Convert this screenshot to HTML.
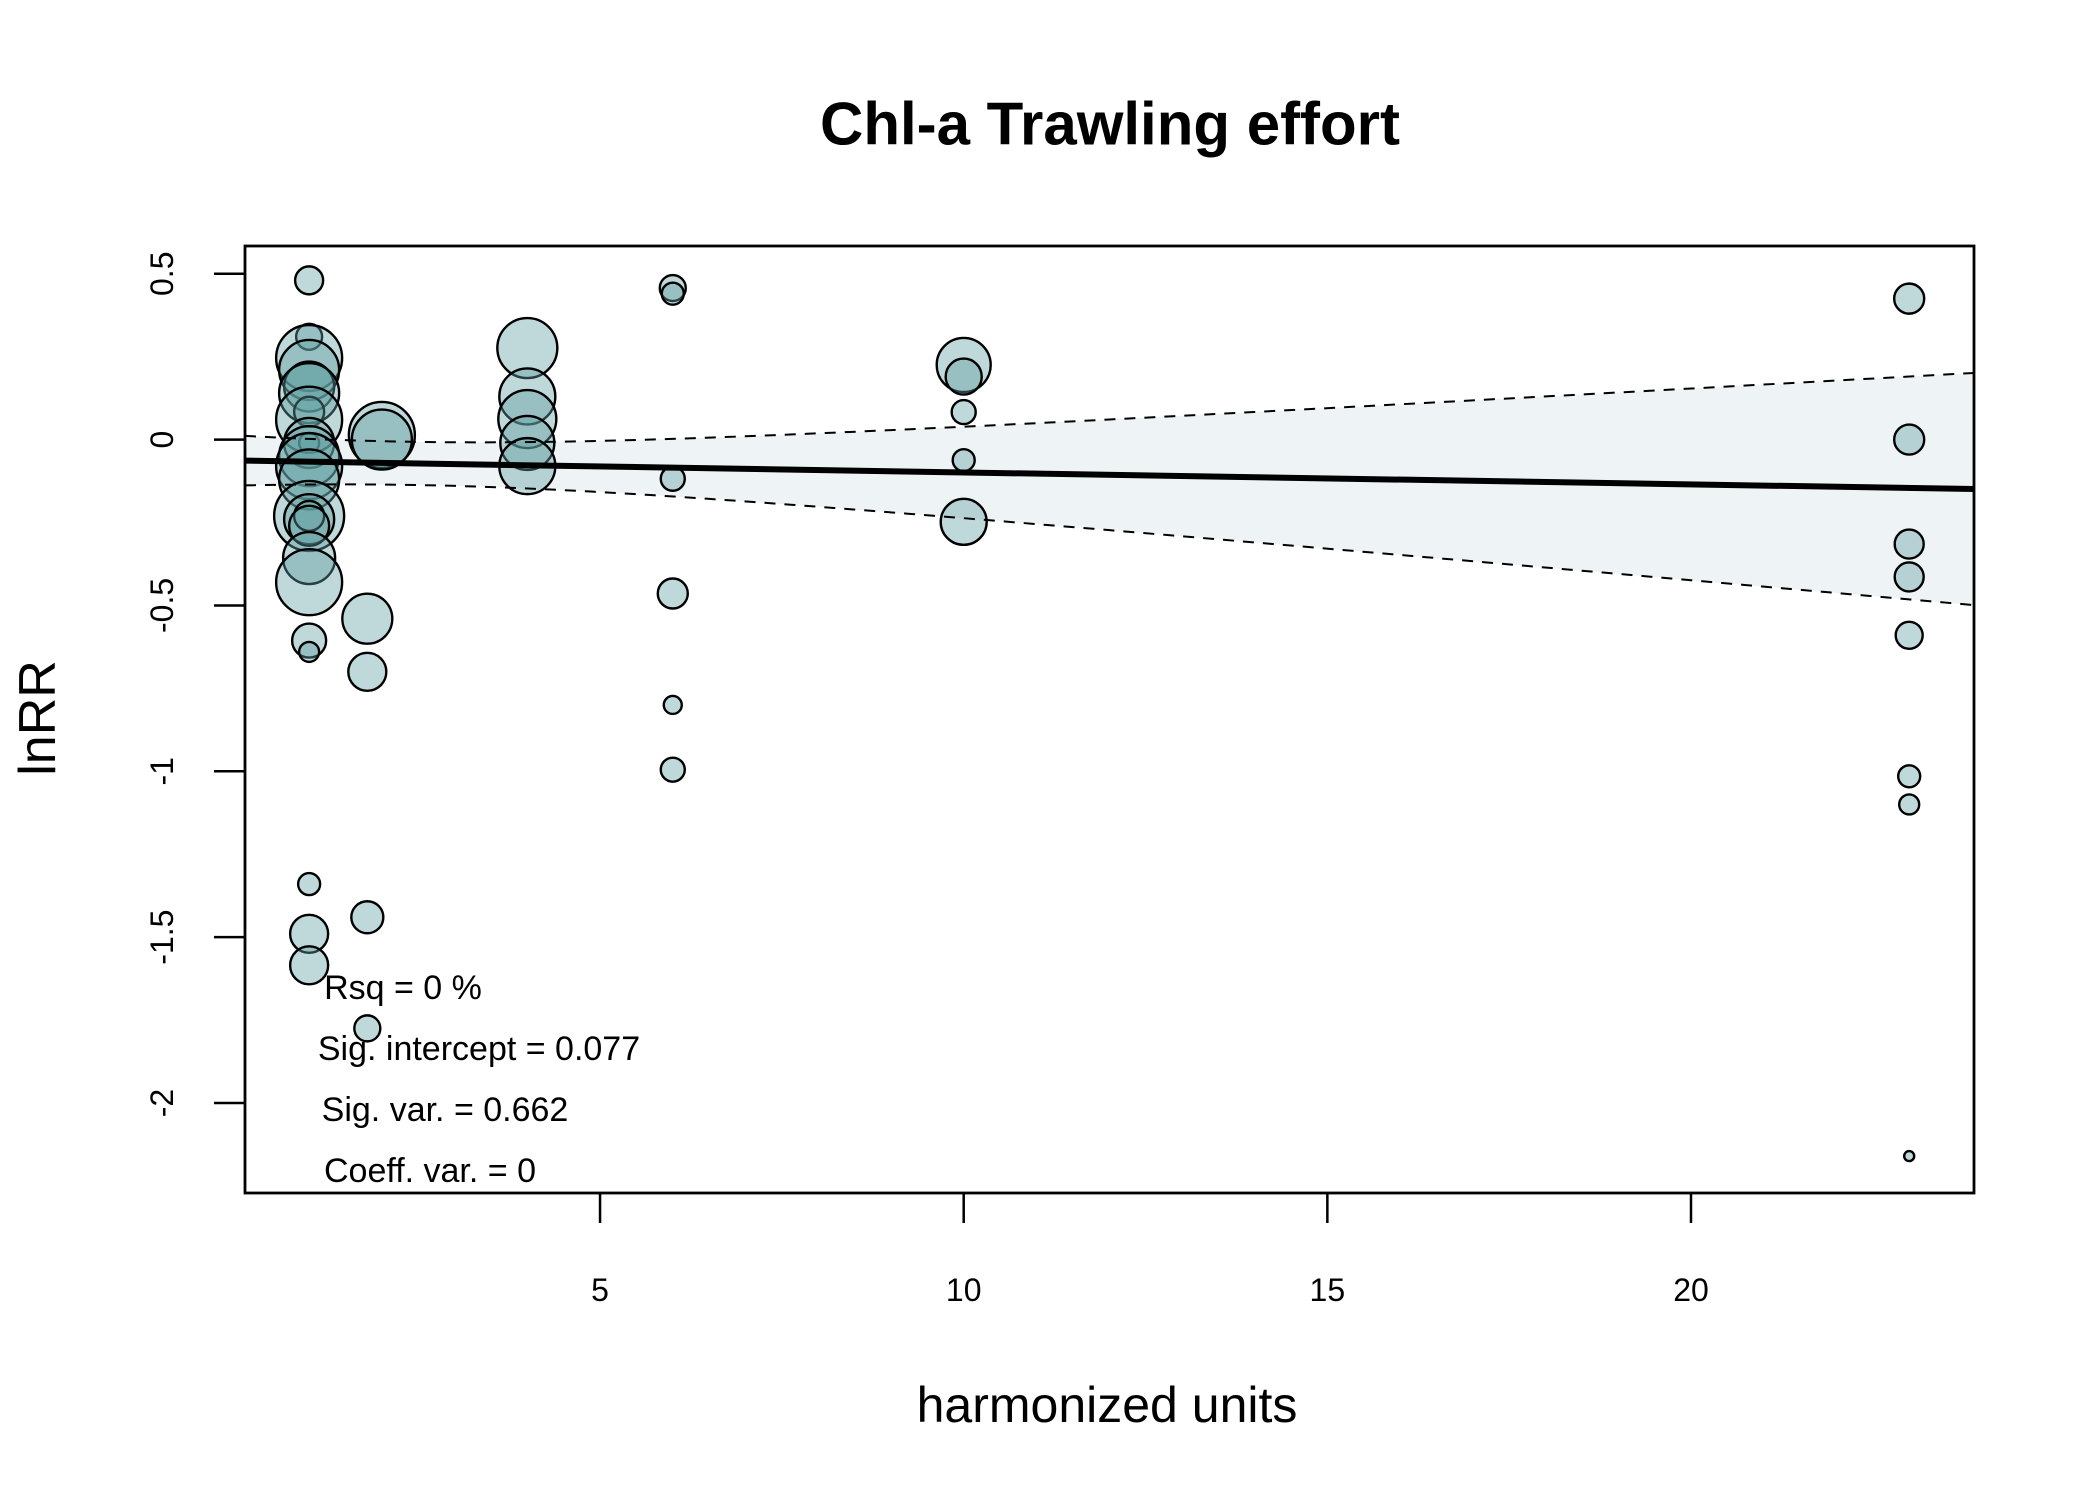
<!DOCTYPE html>
<html><head><meta charset="utf-8"><style>
html,body{margin:0;padding:0;background:#fff}
svg{display:block;font-family:"Liberation Sans",Arial,sans-serif}
</style></head><body>
<svg id="chart" width="2100" height="1500" viewBox="0 0 2100 1500" xmlns="http://www.w3.org/2000/svg">
<rect width="2100" height="1500" fill="#fff"/>
<text x="1110" y="124" text-anchor="middle" dominant-baseline="central" font-size="60" font-weight="bold">Chl-a Trawling effort</text>
<text x="1107" y="1405" text-anchor="middle" dominant-baseline="central" font-size="50">harmonized units</text>
<text transform="translate(38,718) rotate(-90)" text-anchor="middle" dominant-baseline="central" font-size="52">lnRR</text>
<g id="plot"></g>
</svg>
<script>
const xTicks = [5, 10, 15, 20];
const yTicks = [0.5, 0, -0.5, -1, -1.5, -2];
const yTickLabels = ["0.5", "0", "-0.5", "-1", "-1.5", "-2"];
const pointX = [1,1,1,1,1,1,1,1,1,1,1,1,1,1,1,1,1,1,1,1,1,1,1,1,
  2,2,1.8,1.8,1.8,1.8,
  4,4,4,4,4,
  6,6,6,6,6,6,
  10,10,10,10,10,
  23,23,23,23,23,23,23,23];
const pointY = [0.48,0.31,0.246,0.21,0.16,0.14,0.084,0.06,-0.01,-0.01,-0.05,-0.08,-0.12,-0.23,-0.24,-0.23,-0.26,-0.357,-0.43,-0.606,-0.64,-1.34,-1.49,-1.585,
  0.014,0.0,-0.54,-0.70,-1.44,-1.775,
  0.276,0.13,0.062,-0.01,-0.08,
  0.457,0.44,-0.118,-0.464,-0.80,-0.995,
  0.225,0.19,0.083,-0.062,-0.248,
  0.425,0.0,-0.315,-0.414,-0.59,-1.015,-1.10,-2.16];
const pointSize = [14,13,33,30,25,30,15,33,10,25,30,33,30,35,25,15,20,26,33,17,10,11,19,19,
  33,30,25,19,16,13,
  30,28,29,27,28,
  13,11,12,15,9,12,
  27,18,12,11,23,
  15,15,14.5,14.5,13.5,11,10,5];
const fitIntercept = -0.063, fitSlope = -0.0036;
const ciS0 = 0.065, ciS1 = 0.016, ciXbar = 2.4;
const statLines = ["Rsq = 0 %", "Sig. intercept = 0.077", "Sig. var. = 0.662", "Coeff. var. = 0"];

const L=245, R=1974, T=246, B=1193;
const X0=236.4, XU=72.73, Y0=439.6, YU=331.7;
const sx = v => X0 + v*XU;
const sy = v => Y0 - v*YU;
const xMin=(L-X0)/XU, xMax=(R-X0)/XU;
const NS="http://www.w3.org/2000/svg";
const g=document.getElementById('plot');
function mk(tag, attrs){const e=document.createElementNS(NS,tag);for(const k in attrs)e.setAttribute(k,attrs[k]);g.appendChild(e);return e;}
const fit = x => fitIntercept + fitSlope*x;
const hw = x => Math.sqrt(ciS0*ciS0 + ciS1*ciS1*(x-ciXbar)*(x-ciXbar));
let up=[], lo=[];
for(let i=0;i<=60;i++){const x=xMin+(xMax-xMin)*i/60;up.push([sx(x),sy(fit(x)+hw(x))]);lo.push([sx(x),sy(fit(x)-hw(x))]);}
const band=mk('polygon',{points:up.concat(lo.slice().reverse()).map(p=>p.join(',')).join(' '),fill:'#eef4f6'});


for(let i=0;i<pointX.length;i++){
  const c=mk('circle',{cx:sx(pointX[i]),cy:sy(pointY[i]),r:pointSize[i],fill:'rgba(95,158,160,0.4)',stroke:'#000','stroke-width':2.4});
  
  
}
const ul=mk('polyline',{points:up.map(p=>p.join(',')).join(' '),fill:'none',stroke:'#000','stroke-width':2,'stroke-dasharray':'11,9'});


const ll=mk('polyline',{points:lo.map(p=>p.join(',')).join(' '),fill:'none',stroke:'#000','stroke-width':2,'stroke-dasharray':'11,9'});


const fl=mk('line',{x1:sx(xMin),y1:sy(fit(xMin)),x2:sx(xMax),y2:sy(fit(xMax)),stroke:'#000','stroke-width':6});


const bx=mk('rect',{x:L,y:T,width:R-L,height:B-T,fill:'none',stroke:'#000','stroke-width':2.8});


xTicks.forEach(v=>{
  const t=mk('line',{x1:sx(v),y1:B,x2:sx(v),y2:B+30,stroke:'#000','stroke-width':2.5});
  
  
  const l=mk('text',{x:sx(v),y:1290,'text-anchor':'middle','dominant-baseline':'central','font-size':32});
  l.textContent=String(v);
  
  
});
yTicks.forEach((v,i)=>{
  const t=mk('line',{x1:L-31,y1:sy(v),x2:L,y2:sy(v),stroke:'#000','stroke-width':2.5});
  
  
  const l=mk('text',{transform:`translate(162,${sy(v)}) rotate(-90)`,'text-anchor':'middle','dominant-baseline':'central','font-size':32});
  l.textContent=yTickLabels[i];
  
  
});
const sxPos=[403,479,445,430], syPos=[988,1049,1110,1171];
statLines.forEach((s,i)=>{
  const l=mk('text',{x:sxPos[i],y:syPos[i],'text-anchor':'middle','dominant-baseline':'central','font-size':34});
  l.textContent=s;
  
  
});
</script>
</body></html>
